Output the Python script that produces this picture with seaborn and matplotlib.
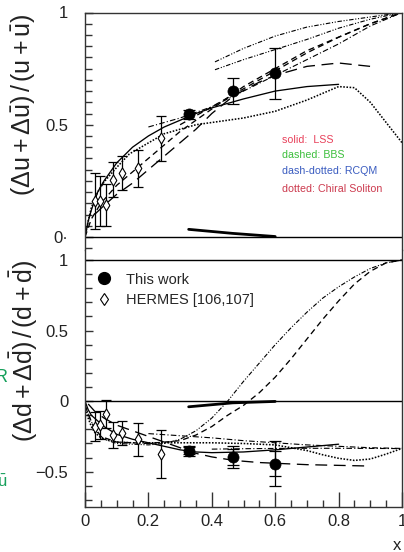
import numpy as np
import pandas as pd
import matplotlib
matplotlib.use("Agg")
import matplotlib.pyplot as plt
from matplotlib.lines import Line2D
from matplotlib.ticker import MultipleLocator
import seaborn as sns

# ---------------- data ----------------
# measured polarisation ratios (this work)
x_this = [0.327, 0.466, 0.600]
u_this = [0.547, 0.652, 0.729]
u_this_err = [0.020, 0.058, 0.113]
u_this_sys = [0.034, 0.016, 0.002]
d_this = [-0.352, -0.395, -0.442]
d_this_err = [0.035, 0.080, 0.160]
d_this_stat = [0.025, 0.055, 0.090]
d_this_sys = [-0.040, -0.012, -0.002]

# HERMES points
x_hermes = [0.033, 0.047, 0.065, 0.087, 0.118, 0.166, 0.239]
u_hermes = [0.160, 0.160, 0.142, 0.254, 0.285, 0.306, 0.440]
u_hermes_err = [0.125, 0.110, 0.093, 0.078, 0.075, 0.082, 0.100]
d_hermes = [-0.180, -0.170, -0.090, -0.240, -0.225, -0.270, -0.375]
d_hermes_err = [0.100, 0.100, 0.100, 0.095, 0.087, 0.118, 0.168]

# model curves, u quark
lss_u_x = [0, 0.01, 0.02, 0.04, 0.06, 0.1, 0.15, 0.2, 0.25, 0.3, 0.35, 0.4, 0.5, 0.6, 0.7, 0.8]
lss_u_y = [0, 0.07, 0.12, 0.20, 0.25, 0.33, 0.40, 0.45, 0.49, 0.52, 0.55, 0.575, 0.615, 0.65, 0.67, 0.68]
bbs_u_x = [0.03, 0.06, 0.1, 0.15, 0.2, 0.25, 0.3, 0.35, 0.4, 0.47, 0.55, 0.6, 0.7, 0.8, 0.9]
bbs_u_y = [0.10, 0.14, 0.19, 0.24, 0.30, 0.36, 0.42, 0.48, 0.55, 0.63, 0.69, 0.72, 0.76, 0.775, 0.76]
bbs2_u_x = [0, 0.02, 0.05, 0.1, 0.15, 0.2, 0.25, 0.3, 0.4, 0.5, 0.6, 0.7, 0.8, 0.9, 1.0]
bbs2_u_y = [0, 0.08, 0.15, 0.23, 0.29, 0.35, 0.41, 0.47, 0.57, 0.67, 0.75, 0.83, 0.89, 0.95, 1.0]
bbs3_u_x = [0.3, 0.4, 0.5, 0.6, 0.7, 0.8, 0.9, 1.0]
bbs3_u_y = [0.50, 0.58, 0.66, 0.74, 0.82, 0.89, 0.95, 1.0]
rcqm_u_x = [0.2, 0.3, 0.4, 0.5, 0.6, 0.7, 0.8, 0.9, 1.0]
rcqm_u_y = [0.49, 0.53, 0.58, 0.65, 0.72, 0.79, 0.86, 0.94, 1.0]
rcqm2_u_x = [0.41, 0.5, 0.6, 0.7, 0.8, 0.9, 1.0]
rcqm2_u_y = [0.78, 0.84, 0.895, 0.935, 0.96, 0.98, 1.0]
rcqm3_u_x = [0.41, 0.5, 0.6, 0.7, 0.8, 0.9, 1.0]
rcqm3_u_y = [0.745, 0.79, 0.835, 0.88, 0.93, 0.97, 1.0]
chiral_u_x = [0, 0.01, 0.02, 0.04, 0.06, 0.1, 0.14, 0.25, 0.35, 0.5, 0.6, 0.7, 0.8, 0.85, 0.9, 0.95, 1.0]
chiral_u_y = [0, 0.07, 0.13, 0.20, 0.245, 0.31, 0.37, 0.46, 0.50, 0.53, 0.56, 0.61, 0.67, 0.665, 0.60, 0.51, 0.42]

# model curves, d quark
lss_d_x = [0, 0.01, 0.02, 0.04, 0.06, 0.1, 0.15, 0.2, 0.25, 0.3, 0.35, 0.4, 0.5, 0.6, 0.7, 0.8]
lss_d_y = [0, -0.06, -0.10, -0.14, -0.18, -0.235, -0.27, -0.295, -0.32, -0.345, -0.36, -0.365, -0.36, -0.345, -0.325, -0.305]
bbs_d_x = [0.01, 0.03, 0.06, 0.1, 0.15, 0.2, 0.25, 0.3, 0.35, 0.4, 0.47, 0.55, 0.6, 0.7, 0.8, 0.9]
bbs_d_y = [-0.02, -0.07, -0.12, -0.17, -0.21, -0.25, -0.29, -0.33, -0.37, -0.395, -0.42, -0.435, -0.44, -0.45, -0.455, -0.46]
bbs2_d_x = [0, 0.02, 0.05, 0.1, 0.2, 0.3, 0.35, 0.4, 0.45, 0.5, 0.55, 0.6, 0.65, 0.7, 0.75, 0.8, 0.85, 0.9, 0.95, 1.0]
bbs2_d_y = [-0.03, -0.15, -0.25, -0.29, -0.30, -0.28, -0.24, -0.18, -0.10, -0.03, 0.06, 0.17, 0.30, 0.44, 0.58, 0.71, 0.83, 0.92, 0.98, 1.0]
rcqm_d_x = [0, 0.03, 0.06, 0.1, 0.2, 0.25, 0.3, 0.35, 0.4, 0.45, 0.5, 0.55, 0.6, 0.65, 0.7, 0.75, 0.8, 0.85, 0.9, 0.95, 1.0]
rcqm_d_y = [-0.03, -0.20, -0.27, -0.30, -0.31, -0.30, -0.27, -0.21, -0.12, 0.0, 0.14, 0.27, 0.40, 0.52, 0.63, 0.73, 0.81, 0.88, 0.94, 0.98, 1.0]
rcqm2_d_x = [0.2, 0.3, 0.4, 0.5, 0.6, 0.7, 0.8, 0.9, 1.0]
rcqm2_d_y = [-0.23, -0.245, -0.26, -0.28, -0.295, -0.31, -0.32, -0.33, -0.335]
rcqm3_d_x = [0.4, 0.5, 0.6, 0.7, 0.8, 0.9, 1.0]
rcqm3_d_y = [-0.34, -0.337, -0.335, -0.334, -0.334, -0.335, -0.336]
chiral_d_x = [0, 0.01, 0.02, 0.03, 0.05, 0.08, 0.1, 0.15, 0.2, 0.3, 0.4, 0.5, 0.6, 0.7, 0.75, 0.8, 0.85, 0.9, 0.95, 1.0]
chiral_d_y = [-0.03, -0.12, -0.18, -0.22, -0.26, -0.28, -0.29, -0.295, -0.295, -0.295, -0.295, -0.30, -0.31, -0.35, -0.38, -0.405, -0.42, -0.41, -0.375, -0.335]

x_ticks = [0, 0.2, 0.4, 0.6, 0.8, 1.0]
x_ticklabels = ["0", "0.2", "0.4", "0.6", "0.8", "1"]
u_ticks = [0, 0.5, 1.0]
u_ticklabels = ["0\u00b7", "0.5", "1"]
d_ticks = [-0.5, 0, 0.5, 1.0]
d_ticklabels = ["\u22120.5", "0", "0.5", "1"]

model_notes = ["solid:  LSS", "dashed: BBS", "dash-dotted: RCQM", "dotted: Chiral Soliton"]
note_colors = ["#e8405a", "#3cbf3c", "#3a5cc0", "#cc3a4e"]

# ---------------- style ----------------
sns.set_theme(style="white")
plt.rcParams["font.family"] = ["Liberation Sans", "DejaVu Sans"]
plt.rcParams["mathtext.fontset"] = "custom"
plt.rcParams["mathtext.rm"] = "Liberation Sans"
plt.rcParams["mathtext.it"] = "Liberation Sans"
plt.rcParams["mathtext.bf"] = "Liberation Sans:bold"

W, H = 404, 552
fig = plt.figure(figsize=(W / 100, H / 100), dpi=100)
fig.patch.set_facecolor("white")

def frac_box(left, top, right, bottom):
    return [left / W, 1 - bottom / H, (right - left) / W, (bottom - top) / H]

ax_u = fig.add_axes(frac_box(85, 12.5, 402, 250))
ax_d = fig.add_axes(frac_box(85, 250, 402, 507))

LW = 0.95
styles = {
    "solid": dict(linestyle="-", linewidth=LW),
    "longdash": dict(linestyle=(0, (9, 5)), linewidth=LW),
    "dash": dict(linestyle=(0, (4.5, 3)), linewidth=LW),
    "dashdot": dict(linestyle=(0, (5, 2, 1, 2)), linewidth=LW * 0.85),
    "dashdotdot": dict(linestyle=(0, (4, 1.5, 1, 1.5, 1, 1.5)), linewidth=LW * 0.85),
    "dotted": dict(linestyle=(0, (1, 1)), linewidth=LW * 1.2),
}

def curve(ax, xs, ys, kind):
    df = pd.DataFrame({"x": xs, "y": ys})
    sns.lineplot(data=df, x="x", y="y", ax=ax, color="black", sort=False,
                 estimator=None, legend=False, **styles[kind])

# upper panel curves
curve(ax_u, lss_u_x, lss_u_y, "solid")
curve(ax_u, bbs_u_x, bbs_u_y, "longdash")
curve(ax_u, bbs2_u_x, bbs2_u_y, "dash")
curve(ax_u, bbs3_u_x, bbs3_u_y, "dash")
curve(ax_u, rcqm_u_x, rcqm_u_y, "dashdot")
curve(ax_u, rcqm2_u_x, rcqm2_u_y, "dashdotdot")
curve(ax_u, rcqm3_u_x, rcqm3_u_y, "dashdotdot")
curve(ax_u, chiral_u_x, chiral_u_y, "dotted")
sns.lineplot(x=x_this, y=u_this_sys, ax=ax_u, color="black", linewidth=2.0, sort=False, estimator=None)

# lower panel curves
curve(ax_d, lss_d_x, lss_d_y, "solid")
curve(ax_d, bbs_d_x, bbs_d_y, "longdash")
curve(ax_d, bbs2_d_x, bbs2_d_y, "dash")
curve(ax_d, rcqm_d_x, rcqm_d_y, "dashdotdot")
curve(ax_d, rcqm2_d_x, rcqm2_d_y, "dashdot")
curve(ax_d, rcqm3_d_x, rcqm3_d_y, "dashdot")
curve(ax_d, chiral_d_x, chiral_d_y, "dotted")
sns.lineplot(x=x_this, y=d_this_sys, ax=ax_d, color="black", linewidth=2.0, sort=False, estimator=None)

# data points with error bars
for ax, yh, eh, yt, et in [(ax_u, u_hermes, u_hermes_err, u_this, u_this_err),
                           (ax_d, d_hermes, d_hermes_err, d_this, d_this_err)]:
    ax.errorbar(x_hermes, yh, yerr=eh, fmt="none", ecolor="black", elinewidth=0.9,
                capsize=3.5, capthick=0.9, zorder=3)
    ax.errorbar(x_this, yt, yerr=et, fmt="none", ecolor="black", elinewidth=0.9,
                capsize=4.5, capthick=0.9, zorder=3)
    sns.scatterplot(x=x_hermes, y=yh, ax=ax, marker="d", s=32, color="white",
                    edgecolor="black", linewidth=0.8, zorder=4)
    sns.scatterplot(x=x_this, y=yt, ax=ax, marker="o", s=64, color="black",
                    edgecolor="black", linewidth=0.5, zorder=4)
ax_d.errorbar(x_this, d_this, yerr=d_this_stat, fmt="none", ecolor="black",
              elinewidth=0.9, capsize=4.5, capthick=0.9, zorder=3)

# reference lines
ax_u.axhline(0, color="black", lw=1.0, zorder=1)
ax_d.axhline(0, color="black", lw=1.0, zorder=1)
ax_d.axhline(1, color="black", lw=1.0, zorder=1)

# axes limits, spines, ticks
for ax in (ax_u, ax_d):
    ax.set_xlim(0, 1)
    ax.set_xlabel("")
    ax.set_ylabel("")
    ax.set_facecolor("white")
    for s in ax.spines.values():
        s.set_color("#333333")
        s.set_linewidth(1.0)
        s.set_visible(True)

ax_u.set_ylim(-0.058, 1.0)
ax_d.set_ylim(-0.75, 1.071)
ax_u.spines["bottom"].set_visible(False)
ax_d.spines["top"].set_visible(False)

ax_u.set_yticks(u_ticks)
ax_u.set_yticklabels(u_ticklabels)
ax_u.yaxis.set_minor_locator(MultipleLocator(0.05))
ax_u.set_xticks([])
ax_d.set_yticks(d_ticks)
ax_d.set_yticklabels(d_ticklabels)
ax_d.yaxis.set_minor_locator(MultipleLocator(0.1))
ax_d.set_xticks(x_ticks)
ax_d.set_xticklabels(x_ticklabels)
ax_d.xaxis.set_minor_locator(MultipleLocator(0.05))

for ax in (ax_u, ax_d):
    ax.tick_params(axis="y", which="both", direction="in", left=True, right=False,
                   color="#333333", width=1.0, labelsize=12, pad=12, labelcolor="#222222")
    ax.tick_params(axis="y", which="major", length=6)
    ax.tick_params(axis="y", which="minor", length=5)
ax_d.tick_params(axis="x", which="both", direction="in", bottom=True, top=False,
                 color="#333333", width=1.0, labelsize=12, pad=5, labelcolor="#222222")
ax_d.tick_params(axis="x", which="major", length=11)
ax_d.tick_params(axis="x", which="minor", length=5)

# model key in the upper panel
for i, (txt, col) in enumerate(zip(model_notes, note_colors)):
    fig.text(282 / W, 1 - [140, 155, 170.5, 189.5][i] / H, txt, color=col,
             fontsize=7.7, ha="left", va="center")

# legend in the lower panel
handles = [Line2D([], [], marker="o", ls="none", color="black", markersize=8.5),
           Line2D([], [], marker="d", ls="none", markerfacecolor="white",
                  markeredgecolor="black", markersize=6.5, markeredgewidth=0.8)]
ax_d.legend(handles, ["This work", "HERMES [106,107]"], loc="upper left",
            bbox_to_anchor=(0.015, 0.935), frameon=False, fontsize=10.5,
            handlelength=1.2, handletextpad=0.9, labelspacing=0.45, borderaxespad=0)

# axis titles
fig.text(23.5 / W, 1 - 105 / H, r"$(\Delta u+\Delta\bar{u})\,/\,(u+\bar{u})$",
         rotation=90, ha="center", va="center", fontsize=18, color="#222222")
fig.text(23.5 / W, 1 - 351 / H, r"$(\Delta d+\Delta\bar{d})\,/\,(d+\bar{d})$",
         rotation=90, ha="center", va="center", fontsize=18, color="#222222")
fig.text(397 / W, 1 - 546 / H, "x", ha="center", va="center", fontsize=12, color="#222222")

# fragments of neighbouring green annotations at the left edge
fig.text(-6 / W, 1 - 377 / H, "R", color="#17a05c", fontsize=13, ha="left", va="center")
fig.text(-3 / W, 1 - 482 / H, r"$\bar{u}$", color="#17a05c", fontsize=12, ha="left", va="center")

fig.savefig("out.png", dpi=100, facecolor="white")
